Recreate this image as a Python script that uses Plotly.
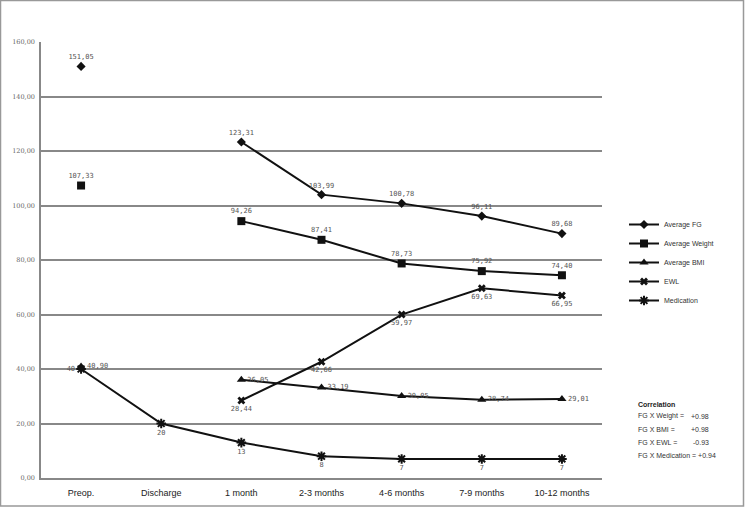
import plotly.graph_objects as go

categories = ["Preop.", "Discharge", "1 month", "2-3 months", "4-6 months", "7-9 months", "10-12 months"]
avg_fg = [151.05, None, 123.31, 103.99, 100.78, 96.11, 89.68]
avg_weight = [107.33, None, 94.26, 87.41, 78.73, 75.92, 74.40]
avg_bmi = [40.90, None, 36.05, 33.19, 30.05, 28.74, 29.01]
ewl = [None, None, 28.44, 42.66, 59.97, 69.63, 66.95]
medication = [40, 20, 13, 8, 7, 7, 7]
y_ticks = [0, 20, 40, 60, 80, 100, 120, 140, 160]
corr_labels = ["FG X Weight =", "FG X BMI =", "FG X EWL ="]
corr_values = ["+0.98", "+0.98", "-0.93"]
corr_med = "FG X Medication = +0.94"

W, H = 745, 507
L, R, T, B = 41, 143, 42, 29
pw, ph = W - L - R, H - T - B


def fmt(vals, dec=2):
    out = []
    for v in vals:
        if v is None:
            out.append("")
        elif dec == 0:
            out.append(f"{v:.0f}")
        else:
            out.append(f"{v:.{dec}f}".replace(".", ","))
    return out


lab_font = dict(family="DejaVu Sans Mono", size=7, color="#555")
line_c = "#111"

fig = go.Figure()
series = [
    ("Average FG", avg_fg, "diamond", 7, fmt(avg_fg), ["top center"] * 7),
    ("Average Weight", avg_weight, "square", 8, fmt(avg_weight), ["top center"] * 7),
    ("Average BMI", avg_bmi, "triangle-up", 8, fmt(avg_bmi), ["middle right"] * 7),
    ("EWL", ewl, "x", 7, fmt(ewl), ["bottom center"] * 7),
    ("Medication", medication, "asterisk-open", 8, fmt(medication, 0),
     ["middle left"] + ["bottom center"] * 6),
]
for name, vals, sym, size, txt, pos in series:
    marker = dict(symbol=sym, size=size, color=line_c)
    if sym == "asterisk-open":
        marker["line"] = dict(color=line_c, width=2)
    fig.add_trace(go.Scatter(
        x=categories, y=vals, name=name, mode="lines+markers+text",
        line=dict(color=line_c, width=2), marker=marker,
        text=txt, textposition=pos, textfont=lab_font,
        connectgaps=False, cliponaxis=False,
    ))

annotations = [dict(xref="paper", yref="paper", x=(636 - L) / pw, y=(H - B - 404) / ph,
                    text="<b>Correlation</b>", showarrow=False, xanchor="left", yanchor="middle",
                    font=dict(family="Liberation Sans", size=7, color="#222"))]
ys = [416, 429, 442]
for lab, val, yy in zip(corr_labels, corr_values, ys):
    annotations.append(dict(xref="paper", yref="paper", x=(636 - L) / pw, y=(H - B - yy) / ph,
                            text=lab, showarrow=False, xanchor="left", yanchor="middle",
                            font=dict(family="Liberation Sans", size=7, color="#333")))
    annotations.append(dict(xref="paper", yref="paper", x=(711 - L) / pw, y=(H - B - yy) / ph,
                            text=val, showarrow=False, xanchor="right", yanchor="middle",
                            font=dict(family="Liberation Sans", size=7, color="#333")))
annotations.append(dict(xref="paper", yref="paper", x=(636 - L) / pw, y=(H - B - 455) / ph,
                        text=corr_med, showarrow=False, xanchor="left", yanchor="middle",
                        font=dict(family="Liberation Sans", size=7, color="#333")))

shapes = [dict(type="rect", xref="paper", yref="paper",
               x0=(0.5 - L) / pw, x1=(743.5 - L) / pw,
               y0=(H - B - 506) / ph, y1=(H - B - 0.5) / ph,
               line=dict(color="#999", width=1.5), fillcolor="rgba(0,0,0,0)")]

fig.update_layout(
    width=W, height=H,
    margin=dict(l=L, r=R, t=T, b=B, pad=0, autoexpand=False),
    plot_bgcolor="white", paper_bgcolor="white",
    showlegend=True,
    legend=dict(x=(624 - L) / pw, y=(H - B - 210) / ph, xanchor="left", yanchor="top",
                font=dict(family="Liberation Sans", size=7, color="#333"),
                bgcolor="rgba(0,0,0,0)", itemwidth=30, tracegroupgap=0),
    annotations=annotations,
    shapes=shapes,
    xaxis=dict(type="category", range=[-0.5, 6.5], showgrid=False, showline=True,
               linecolor="#888", linewidth=1.5, ticks="", ticklabelstandoff=5, automargin=False,
               tickfont=dict(family="Liberation Sans", size=9, color="#222")),
    yaxis=dict(range=[0, 160], tickvals=y_ticks,
               ticktext=[f"{v:.2f}".replace(".", ",") for v in y_ticks],
               showgrid=True, gridcolor="#888", gridwidth=1.5, showline=True, automargin=False,
               linecolor="#888", linewidth=1.5, ticks="", zeroline=False, ticklabelstandoff=3,
               tickfont=dict(family="DejaVu Serif", size=6.5, color="#666")),
)

fig.write_html("out.html")
